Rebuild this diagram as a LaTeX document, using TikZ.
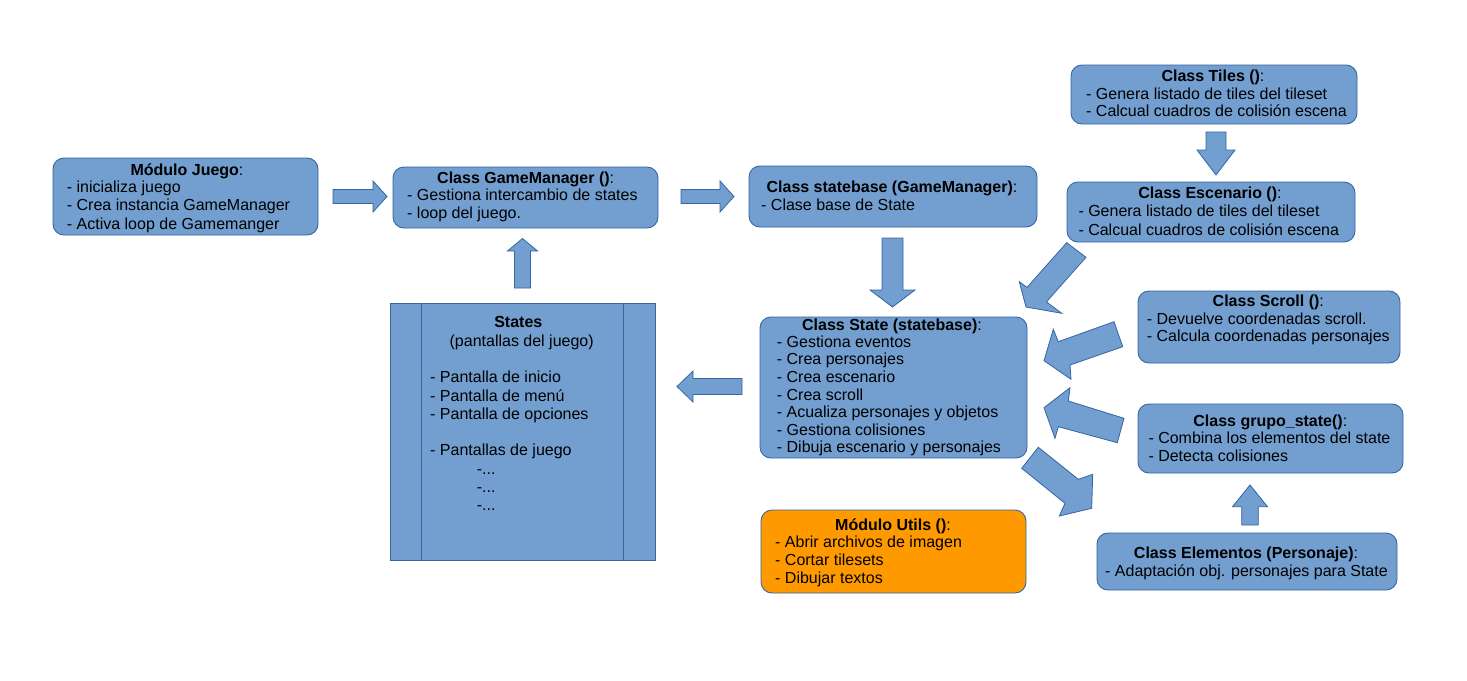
\documentclass[tikz,border=0pt]{standalone}
\usepackage{fontspec}
\setmainfont{Liberation Sans}
\usetikzlibrary{calc}
\definecolor{bfill}{HTML}{729FCF}
\definecolor{bline}{HTML}{3465A4}
\definecolor{ofill}{HTML}{FF9900}
\tikzset{
 box/.style={draw=bline, fill=bfill, rounded corners=11pt, line width=0.9pt, inner sep=0pt},
 obox/.style={box, fill=ofill},
 sbox/.style={draw=bline, fill=bfill, line width=0.9pt, inner sep=0pt},
 txt/.style={inner sep=0pt, font=\fontsize{16}{18}\selectfont, text=black},
 blockarr/.style={draw=bline, fill=bfill, line width=0.8pt, line join=miter},
}
\newcommand\barrow[5]{%
 \coordinate (bh) at ($(#2)!#5!(#1)$);
 \draw[blockarr] ($(#1)!#3!90:(#2)$) -- ($(bh)!#3!-90:(#1)$) -- ($(bh)!#4!-90:(#1)$) -- (#2) -- ($(bh)!#4!90:(#1)$) -- ($(bh)!#3!90:(#1)$) -- ($(#1)!#3!-90:(#2)$) -- cycle;}
\newcommand\blines[5]{%
 \foreach \t [count=\i from 0] in {#5} \node[txt, anchor=base west] (#1-\i) at (#2, {#3+\i*#4}) {\t};}
\begin{document}
\begin{tikzpicture}[x=1pt, y=-1pt]
\fill[white] (0,0) rectangle (1467,680);
\useasboundingbox (0,0) rectangle (1467,680);

% boxes
\node[box, minimum width=265pt, minimum height=77pt] (juego) at (185.5,196.5) {};
\node[box, minimum width=265pt, minimum height=61pt] (gm) at (525.5,197.5) {};
\node[box, minimum width=288pt, minimum height=61pt] (sb) at (893,196.5) {};
\node[box, minimum width=286pt, minimum height=59pt] (tiles) at (1214,94.5) {};
\node[box, minimum width=288pt, minimum height=60pt] (esc) at (1211,212) {};
\node[sbox, minimum width=265pt, minimum height=257pt] (states) at (522.5,431.5) {};
\draw[draw=bline, line width=0.9pt] ([xshift=31.7pt]states.north west) -- ([xshift=31.7pt]states.south west);
\draw[draw=bline, line width=0.9pt] ([xshift=-31.7pt]states.north east) -- ([xshift=-31.7pt]states.south east);
\node[box, minimum width=267pt, minimum height=141pt] (state) at (893.5,387.5) {};
\node[box, minimum width=262pt, minimum height=72pt] (scroll) at (1269,327) {};
\node[box, minimum width=265pt, minimum height=69pt] (grupo) at (1270.5,438.5) {};
\node[box, minimum width=300pt, minimum height=57pt] (elem) at (1247,561.5) {};
\node[obox, minimum width=265pt, minimum height=83pt] (utils) at (893.5,551.5) {};

% straight block arrows
\coordinate (a1s) at (333,196.5); \coordinate (a1e) at (387,196.5);
\coordinate (a2s) at (681,196.5); \coordinate (a2e) at (734,196.5);
\coordinate (a3s) at (522.5,288); \coordinate (a3e) at (522.5,238.5);
\coordinate (a4s) at (892.5,238); \coordinate (a4e) at (892.5,307);
\coordinate (a5s) at (742,386.5); \coordinate (a5e) at (677,386.5);
\coordinate (a6s) at (1216,132); \coordinate (a6e) at (1216,175);
\coordinate (a11s) at (1250,525); \coordinate (a11e) at (1250,485);
\barrow{a1s}{a1e}{7pt}{15.5pt}{14pt}
\barrow{a2s}{a2e}{7pt}{15.5pt}{14pt}
\barrow{a3s}{a3e}{8pt}{15pt}{12.5pt}
\barrow{a4s}{a4e}{10.5pt}{22.5pt}{17pt}
\barrow{a5s}{a5e}{8pt}{15.5pt}{16pt}
\barrow{a6s}{a6e}{10pt}{19pt}{25pt}
\barrow{a11s}{a11e}{8.3pt}{17.5pt}{21.7pt}

% skewed diagonal block arrows
\draw[blockarr] (1066.7,242.7) -- (1027,287.4) -- (1019.3,281.7) -- (1026,307) -- (1061.7,313.3) -- (1046.4,301.9) -- (1086,257.3) -- cycle;
\draw[blockarr] (1114,321.7) -- (1058.3,341.7) -- (1053.3,329.3) -- (1044,360.7) -- (1071,379.3) -- (1070,365) -- (1122.7,346.7) -- cycle;
\draw[blockarr] (1124,418.3) -- (1068.3,401) -- (1070,387.7) -- (1044,407.7) -- (1055,438.3) -- (1058.3,426.7) -- (1117.3,442.7) -- cycle;
\draw[blockarr] (1038.3,447.3) -- (1078.3,479.3) -- (1092.7,474.3) -- (1091.7,508.3) -- (1059.3,516) -- (1065,503.3) -- (1021.7,468.3) -- cycle;

% texts
\node[txt, anchor=base] (juego-t) at (187,175) {\textbf{Módulo Juego}:};
\blines{juego}{66.7}{192.7}{18.2}{- inicializa juego, - Crea instancia GameManager, - Activa loop de Gamemanger}

\node[txt, anchor=base] (gm-t) at (525.7,183) {\textbf{Class GameManager ()}:};
\blines{gm}{407}{200}{18}{- Gestiona intercambio de states, - loop del juego.}

\node[txt, anchor=base] (sb-t) at (892,192.7) {\textbf{Class statebase (GameManager)}:};
\blines{sb}{761}{210}{18}{- Clase base de State}

\node[txt, anchor=base] (tiles-t) at (1213,81.7) {\textbf{Class Tiles ()}:};
\blines{tiles}{1086}{99.3}{17.4}{- Genera listado de tiles del tileset, - Calcual cuadros de colisión escena}

\node[txt, anchor=base] (esc-t) at (1210,198.3) {\textbf{Class Escenario ()}:};
\blines{esc}{1078.3}{216.7}{18.3}{- Genera listado de tiles del tileset, - Calcual cuadros de colisión escena}

\node[txt, anchor=base] (states-t) at (518.3,327.3) {\textbf{States}};
\node[txt, anchor=base] (states-s) at (521.7,346) {(pantallas del juego)};
\blines{statesa}{430}{382.7}{18.3}{- Pantalla de inicio, - Pantalla de menú, - Pantalla de opciones}
\node[txt, anchor=base west] (statesb) at (430,455.5) {- Pantallas de juego};
\node[txt, anchor=base west] (statesc-0) at (476.7,474) {-...};
\node[txt, anchor=base west] (statesc-1) at (476.7,492) {-...};
\node[txt, anchor=base west] (statesc-2) at (476.7,510) {-...};

\node[txt, anchor=base] (state-t) at (892,330.7) {\textbf{Class State (statebase)}:};
\blines{state}{776.7}{347.3}{17.6}{- Gestiona eventos, - Crea personajes, - Crea escenario, - Crea scroll, - Acualiza personajes y objetos, - Gestiona colisiones, - Dibuja escenario y personajes}

\node[txt, anchor=base] (scroll-t) at (1268.3,306) {\textbf{Class Scroll ()}:};
\blines{scroll}{1146.7}{324}{17}{- Devuelve coordenadas scroll., - Calcula coordenadas personajes}

\node[txt, anchor=base] (grupo-t) at (1270.3,426) {\textbf{Class grupo\_state()}:};
\blines{grupo}{1148.3}{443.3}{17.7}{- Combina los elementos del state, - Detecta colisiones}

\node[txt, anchor=base] (elem-t) at (1246,558.3) {\textbf{Class Elementos (Personaje)}:};
\blines{elem}{1105}{576}{18}{- Adaptación obj. personajes para State}

\node[txt, anchor=base] (utils-t) at (893,530) {\textbf{Módulo Utils ()}:};
\blines{utils}{775}{547.7}{17.8}{- Abrir archivos de imagen, - Cortar tilesets, - Dibujar textos}
\end{tikzpicture}
\end{document}
